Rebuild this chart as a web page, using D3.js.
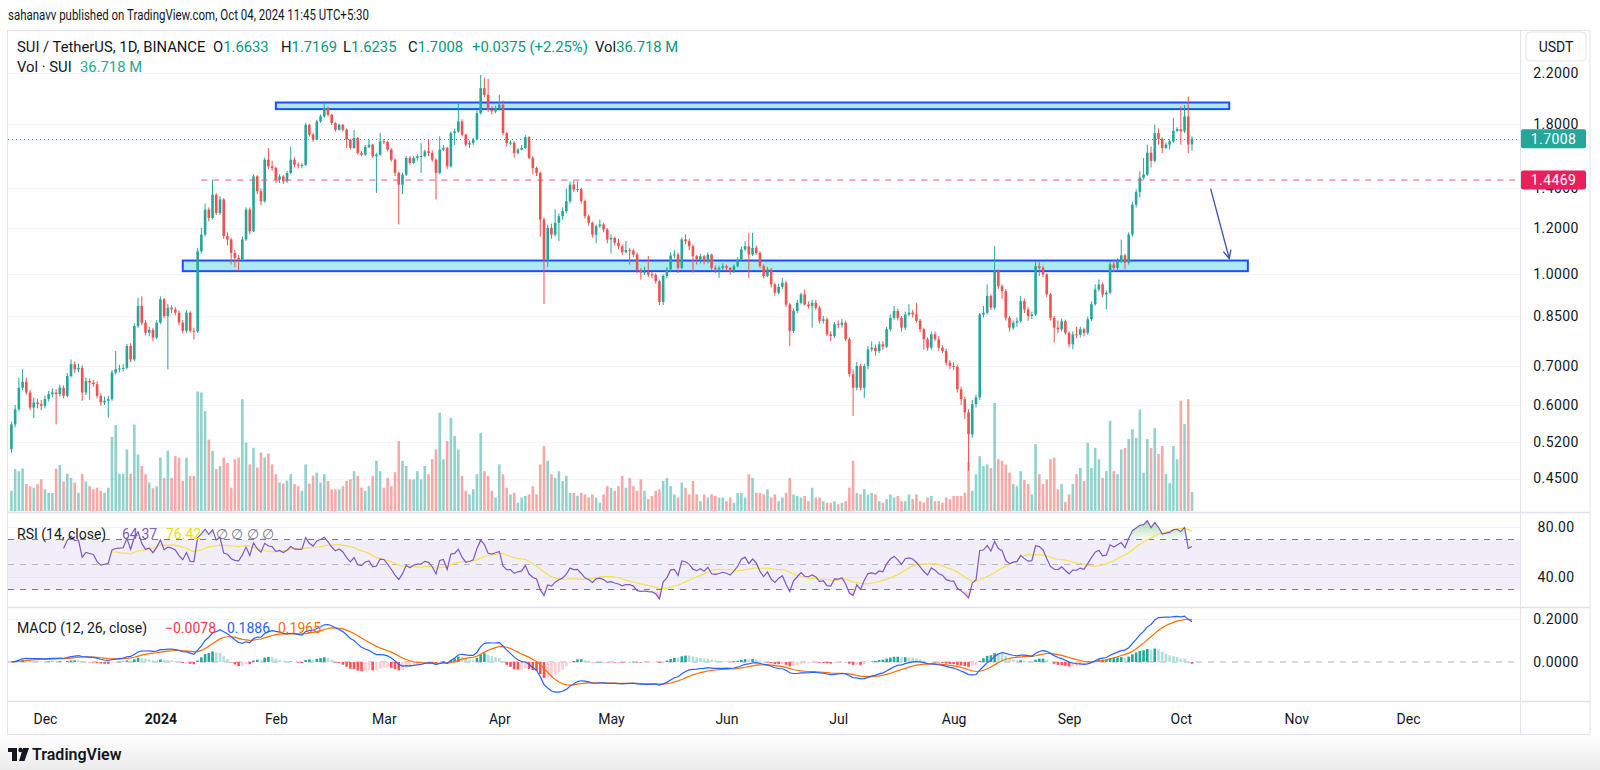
<!DOCTYPE html>
<html><head><meta charset="utf-8">
<script src="https://cdn.jsdelivr.net/npm/d3@7"></script>
<style>
body{margin:0;background:#fff;}
text{font-family:Roboto,"Liberation Sans",sans-serif;}
</style>
</head><body>
<svg id="c" width="1600" height="770"></svg>
<script>
// ---------------- DATA ----------------
const startDate = "2023-11-22";   // first daily candle
const open0 = 0.505;
const closes = [
0.556,0.590,0.642,0.657,0.630,0.594,0.606,0.602,0.598,0.614,
0.626,0.630,0.626,0.642,0.622,0.672,0.704,0.690,0.694,0.630,
0.659,0.655,0.651,0.622,0.606,0.610,0.614,0.681,0.690,0.692,
0.694,0.756,0.717,0.817,0.884,0.828,0.796,0.805,0.781,0.828,
0.907,0.850,0.878,0.872,0.861,0.828,0.802,0.861,0.802,0.800,
1.095,1.169,1.289,1.248,1.367,1.272,1.341,1.162,1.147,1.088,
1.067,1.060,1.147,1.289,1.184,1.468,1.385,1.332,1.567,1.527,
1.517,1.449,1.468,1.440,1.488,1.567,1.537,1.531,1.535,1.796,
1.728,1.695,1.820,1.856,1.918,1.868,1.808,1.762,1.796,1.762,
1.695,1.641,1.706,1.609,1.598,1.647,1.662,1.588,1.598,1.684,
1.680,1.630,1.567,1.488,1.421,1.478,1.578,1.547,1.578,1.588,
1.590,1.619,1.609,1.567,1.488,1.630,1.641,1.527,1.739,1.750,
1.820,1.728,1.662,1.672,1.695,1.880,2.073,2.020,1.905,1.893,
1.918,1.943,1.739,1.672,1.675,1.609,1.630,1.641,1.712,1.578,
1.517,1.488,1.240,1.060,1.200,1.169,1.224,1.256,1.281,1.332,
1.421,1.394,1.397,1.332,1.256,1.224,1.169,1.208,1.216,1.192,
1.147,1.154,1.132,1.117,1.091,1.100,1.098,1.081,1.017,1.007,
1.009,1.000,0.998,0.974,0.898,0.994,1.020,1.077,1.081,1.026,
1.147,1.139,1.117,1.074,1.060,1.074,1.053,1.081,1.026,1.020,
1.026,1.033,1.026,1.013,1.033,1.060,1.103,1.117,1.081,1.110,
1.088,1.033,0.994,1.020,0.962,0.931,0.953,0.968,0.889,0.802,
0.867,0.895,0.925,0.889,0.884,0.895,0.878,0.834,0.839,0.791,
0.786,0.823,0.821,0.828,0.776,0.677,0.642,0.699,0.642,0.699,
0.746,0.751,0.741,0.761,0.754,0.807,0.844,0.867,0.844,0.812,
0.855,0.861,0.855,0.834,0.807,0.776,0.751,0.791,0.776,0.751,
0.741,0.708,0.699,0.697,0.638,0.614,0.583,0.535,0.602,0.618,
0.855,0.861,0.919,0.878,1.013,0.955,0.937,0.844,0.812,0.828,
0.833,0.901,0.872,0.850,0.855,1.033,1.026,1.000,0.925,0.844,
0.812,0.807,0.833,0.796,0.761,0.791,0.790,0.807,0.796,0.839,
0.890,0.943,0.962,0.925,0.931,1.040,1.026,1.053,1.078,1.047,
1.169,1.314,1.380,1.460,1.478,1.610,1.560,1.739,1.700,1.640,
1.662,1.683,1.755,1.767,1.751,1.856,1.6633,1.7008];
const highs = [
0.562,0.600,0.668,0.690,0.668,0.636,0.618,0.615,0.612,0.622,
0.634,0.640,0.638,0.650,0.648,0.680,0.717,0.712,0.705,0.700,
0.668,0.666,0.662,0.658,0.628,0.620,0.622,0.688,0.741,0.702,
0.704,0.762,0.764,0.826,0.913,0.918,0.836,0.815,0.812,0.836,
0.918,0.912,0.890,0.886,0.880,0.868,0.836,0.870,0.866,0.812,
1.110,1.200,1.320,1.300,1.449,1.375,1.360,1.348,1.180,1.155,
1.100,1.080,1.160,1.300,1.300,1.480,1.475,1.400,1.580,1.640,
1.560,1.525,1.480,1.475,1.500,1.650,1.580,1.550,1.545,1.810,
1.805,1.740,1.832,1.870,1.968,1.930,1.875,1.815,1.805,1.800,
1.770,1.700,1.760,1.712,1.620,1.660,1.700,1.668,1.610,1.740,
1.700,1.690,1.640,1.575,1.495,1.490,1.590,1.590,1.590,1.600,
1.672,1.630,1.695,1.625,1.575,1.717,1.660,1.648,1.750,1.770,
1.950,1.835,1.735,1.690,1.705,1.900,2.183,2.160,2.150,1.930,
1.935,2.020,1.975,1.745,1.690,1.685,1.640,1.660,1.725,1.718,
1.590,1.525,1.495,1.250,1.215,1.220,1.290,1.270,1.300,1.400,
1.440,1.445,1.440,1.405,1.340,1.265,1.230,1.215,1.240,1.225,
1.200,1.170,1.160,1.150,1.125,1.140,1.110,1.105,1.090,1.025,
1.030,1.075,1.010,1.005,0.980,1.000,1.030,1.090,1.100,1.090,
1.155,1.170,1.150,1.125,1.080,1.085,1.080,1.090,1.085,1.035,
1.035,1.045,1.040,1.030,1.040,1.070,1.115,1.139,1.177,1.177,
1.120,1.095,1.040,1.030,1.025,0.968,0.965,0.987,0.975,0.895,
0.875,0.905,0.931,0.943,0.900,0.905,0.905,0.885,0.850,0.845,
0.800,0.830,0.835,0.840,0.835,0.782,0.690,0.710,0.705,0.705,
0.755,0.770,0.760,0.770,0.770,0.815,0.855,0.884,0.875,0.850,
0.865,0.890,0.870,0.895,0.840,0.812,0.782,0.800,0.800,0.785,
0.758,0.748,0.715,0.710,0.702,0.645,0.620,0.590,0.612,0.625,
0.860,0.884,0.962,0.925,1.117,1.020,0.962,0.945,0.850,0.835,
0.845,0.919,0.910,0.880,0.865,1.053,1.053,1.035,1.005,0.930,
0.850,0.835,0.842,0.838,0.800,0.800,0.815,0.815,0.812,0.848,
0.900,0.962,0.980,0.970,0.940,1.050,1.060,1.065,1.146,1.085,
1.180,1.330,1.395,1.497,1.577,1.662,1.650,1.797,1.770,1.710,
1.675,1.695,1.844,1.780,1.930,1.940,2.007,1.7169];
const lows = [
0.498,0.550,0.585,0.636,0.625,0.588,0.570,0.592,0.588,0.592,
0.608,0.618,0.556,0.620,0.616,0.618,0.668,0.680,0.682,0.610,
0.624,0.612,0.644,0.616,0.598,0.600,0.571,0.610,0.676,0.682,
0.684,0.690,0.710,0.712,0.812,0.820,0.788,0.785,0.770,0.776,
0.824,0.842,0.690,0.860,0.852,0.820,0.794,0.796,0.796,0.775,
0.795,1.085,1.160,1.230,1.240,1.262,1.262,1.150,1.120,1.040,
1.030,1.013,1.050,1.140,1.170,1.180,1.370,1.310,1.325,1.510,
1.500,1.430,1.430,1.425,1.430,1.480,1.520,1.515,1.515,1.530,
1.715,1.680,1.690,1.810,1.845,1.855,1.795,1.750,1.755,1.750,
1.640,1.630,1.636,1.598,1.588,1.590,1.640,1.578,1.376,1.590,
1.665,1.620,1.555,1.470,1.216,1.370,1.470,1.535,1.540,1.560,
1.488,1.580,1.590,1.555,1.341,1.480,1.620,1.510,1.520,1.660,
1.740,1.715,1.650,1.640,1.660,1.690,1.870,2.000,1.890,1.870,
1.880,1.900,1.725,1.650,1.660,1.580,1.600,1.625,1.635,1.570,
1.480,1.470,1.160,0.890,1.030,1.150,1.160,1.139,1.240,1.270,
1.320,1.380,1.380,1.320,1.245,1.210,1.155,1.130,1.200,1.180,
1.130,1.085,1.120,1.105,1.080,1.085,1.040,1.070,1.005,0.980,
0.998,0.990,0.985,0.965,0.887,0.887,0.985,1.010,1.065,1.006,
1.020,1.125,1.100,1.007,1.040,1.045,1.040,1.045,1.015,1.005,
0.987,1.015,1.015,1.000,1.005,1.028,1.055,1.095,0.987,1.075,
1.080,1.025,0.985,0.990,0.950,0.920,0.925,0.945,0.880,0.756,
0.795,0.860,0.890,0.885,0.875,0.812,0.870,0.825,0.825,0.785,
0.770,0.780,0.810,0.812,0.770,0.670,0.575,0.635,0.635,0.617,
0.690,0.740,0.728,0.735,0.745,0.750,0.800,0.838,0.835,0.800,
0.805,0.850,0.845,0.828,0.798,0.745,0.742,0.745,0.770,0.742,
0.735,0.700,0.690,0.688,0.630,0.600,0.568,0.464,0.528,0.594,
0.612,0.845,0.855,0.870,0.872,0.945,0.910,0.835,0.800,0.805,
0.815,0.828,0.860,0.834,0.840,0.850,0.994,0.990,0.915,0.835,
0.766,0.795,0.800,0.790,0.752,0.746,0.780,0.782,0.785,0.790,
0.833,0.885,0.935,0.915,0.872,0.925,1.010,1.013,1.045,1.020,
1.040,1.160,1.300,1.350,1.450,1.470,1.520,1.550,1.662,1.608,
1.635,1.630,1.675,1.745,1.662,1.740,1.608,1.6235];
const volumes = [ // millions of SUI
39,81,77,82,52,48,45,52,61,42,
35,35,82,89,57,72,64,55,35,72,
57,48,42,45,39,35,45,143,166,72,
72,119,72,167,109,87,71,55,44,48,
103,64,117,64,106,103,58,103,68,68,
231,229,193,138,116,81,87,103,93,45,
100,103,216,132,90,122,84,113,103,111,
90,71,55,53,59,71,52,48,39,90,
53,68,74,55,71,58,42,42,42,48,
58,61,77,68,45,39,48,68,97,77,
45,64,48,75,135,97,87,61,61,77,
61,87,71,100,119,190,100,135,180,145,
119,68,39,32,42,71,151,77,68,39,
26,90,71,45,32,35,16,26,29,32,
48,32,90,126,97,71,64,77,58,68,
35,35,29,35,32,26,32,26,16,32,
48,45,39,48,68,45,64,48,39,61,
39,23,29,39,42,58,64,48,32,26,
55,45,32,58,32,19,32,26,32,29,
26,26,19,26,16,35,35,26,71,64,
35,35,32,42,26,32,19,26,35,64,
32,29,26,29,19,45,26,26,19,16,
16,19,13,16,19,45,97,35,32,42,
32,35,32,19,16,23,32,26,29,19,
19,32,23,32,19,16,26,29,19,19,
16,26,23,29,29,29,35,95,39,71,
106,87,90,83,209,100,97,90,74,52,
48,77,60,52,32,129,71,52,61,100,
103,42,52,17,32,52,71,83,58,132,
83,122,100,64,77,174,77,71,119,122,
139,158,141,196,74,139,122,160,110,126,
71,54,126,100,213,168,216,36.718];

const priceTicks = [2.2,1.8,1.4,1.2,1.0,0.85,0.7,0.6,0.52,0.45];
const monthTicks = ["2023-12-01","2024-01-01","2024-02-01","2024-03-01","2024-04-01","2024-05-01","2024-06-01","2024-07-01","2024-08-01","2024-09-01","2024-10-01","2024-11-01","2024-12-01"];
const monthLabels = ["Dec","2024","Feb","Mar","Apr","May","Jun","Jul","Aug","Sep","Oct","Nov","Dec"];
const rsiTicks = [80,40];
const rsiBands = [70,50,30];
const macdTicks = [0.2,0];
// drawings
const zoneFrom = ["2024-02-01","2024-01-07"];
const zoneTo   = ["2024-10-14","2024-10-19"];
const zoneLow  = [1.910,1.013];
const zoneHigh = [1.960,1.056];
const hLineFrom = "2024-01-12";
const hLinePrice = 1.4469;
const arrowDates = ["2024-10-09","2024-10-14"];
const arrowPrices = [1.399,1.0645];

// ---------------- LAYOUT ----------------
const svg = d3.select("#c");
const plotL = 8, plotR = 1520, frameR = 1590;
const frameTop = 30, priceBottom = 512, rsiBottom = 607, macdBottom = 701, frameBottom = 734;
const parse = d3.utcParse("%Y-%m-%d");
const start = parse(startDate);
const dates = closes.map((_, i) => d3.utcDay.offset(start, i));
const opens = closes.map((c, i) => i === 0 ? open0 : closes[i - 1]);

const x = d3.scaleUtc().domain([parse("2024-01-01"), parse("2024-12-01")]).range([160.4, 1408]);
const y = d3.scaleLog().domain([0.45, 2.2]).range([478.5, 73]);
const yv = d3.scaleLinear().domain([0, 250]).range([511, 511 - 250 * 0.5175]);
const yr = d3.scaleLinear().domain([16, 92]).range([607, 512]);
const ym = d3.scaleLinear().domain([0, 0.2]).range([662, 619]);

const UP = "#26a69a", DOWN = "#ef5350";
const TXT = "#131722";

// defs
const defs = svg.append("defs");
[["clipP", frameTop, priceBottom], ["clipR", priceBottom, rsiBottom], ["clipM", rsiBottom, macdBottom]].forEach(([id, t, b]) => {
  defs.append("clipPath").attr("id", id).append("rect").attr("x", plotL).attr("y", t).attr("width", plotR - plotL).attr("height", b - t);
});
const fg = defs.append("linearGradient").attr("id", "foot").attr("x1", 0).attr("y1", 0).attr("x2", 0).attr("y2", 1);
fg.append("stop").attr("offset", 0).attr("stop-color", "#ffffff");
fg.append("stop").attr("offset", 1).attr("stop-color", "#ebebeb");
const gOB = defs.append("linearGradient").attr("id", "ob").attr("x1", 0).attr("y1", 0).attr("x2", 0).attr("y2", 1);
gOB.append("stop").attr("offset", 0).attr("stop-color", "rgba(76,175,80,0.45)");
gOB.append("stop").attr("offset", 1).attr("stop-color", "rgba(76,175,80,0.05)");
const gOS = defs.append("linearGradient").attr("id", "os").attr("x1", 0).attr("y1", 0).attr("x2", 0).attr("y2", 1);
gOS.append("stop").attr("offset", 0).attr("stop-color", "rgba(242,54,69,0.05)");
gOS.append("stop").attr("offset", 1).attr("stop-color", "rgba(242,54,69,0.45)");

// background + footer
svg.append("rect").attr("width", 1600).attr("height", 770).attr("fill", "#fff");
svg.append("rect").attr("x", 0).attr("y", frameBottom).attr("width", 1600).attr("height", 770 - frameBottom).attr("fill", "url(#foot)");

// header
svg.append("text").attr("x", 8).attr("y", 20).attr("font-size", 14).attr("fill", TXT)
  .attr("textLength", 361).attr("lengthAdjust", "spacingAndGlyphs")
  .text("sahanavv published on TradingView.com, Oct 04, 2024 11:45 UTC+5:30");

// frame
svg.append("rect").attr("x", 7.5).attr("y", frameTop + 0.5).attr("width", frameR - 7.5).attr("height", frameBottom - frameTop)
  .attr("fill", "none").attr("stroke", "#e0e3eb");
[priceBottom, rsiBottom, macdBottom].forEach(v => svg.append("line").attr("x1", 7.5).attr("x2", frameR).attr("y1", v + 0.5).attr("y2", v + 0.5).attr("stroke", "#e0e3eb").attr("stroke-width", 1.5));
svg.append("line").attr("x1", plotR + 0.5).attr("x2", plotR + 0.5).attr("y1", frameTop).attr("y2", frameBottom).attr("stroke", "#e0e3eb");

// grid
const grid = svg.append("g").attr("stroke", "#f0f3fa").attr("stroke-width", 1);
priceTicks.forEach(p => grid.append("line").attr("x1", plotL).attr("x2", plotR).attr("y1", Math.round(y(p)) + 0.5).attr("y2", Math.round(y(p)) + 0.5));
rsiTicks.forEach(v => grid.append("line").attr("x1", plotL).attr("x2", plotR).attr("y1", Math.round(yr(v)) + 0.5).attr("y2", Math.round(yr(v)) + 0.5));
grid.append("line").attr("x1", plotL).attr("x2", plotR).attr("y1", Math.round(ym(0.2)) + 0.5).attr("y2", Math.round(ym(0.2)) + 0.5);

// ---------------- PRICE PANE ----------------
const gp = svg.append("g").attr("clip-path", "url(#clipP)");
const bw = 2.6;
// volume
gp.selectAll("rect.vol").data(closes).join("rect").attr("class", "vol")
  .attr("x", (c, i) => x(dates[i]) - bw / 2).attr("width", bw)
  .attr("y", (c, i) => yv(volumes[i])).attr("height", (c, i) => yv(0) - yv(volumes[i]))
  .attr("fill", (c, i) => c >= opens[i] ? "rgba(38,166,154,0.5)" : "rgba(239,83,80,0.5)");

// zones (rectangles)
zoneFrom.forEach((f, k) => {
  const x0 = x(parse(f)), x1 = x(parse(zoneTo[k]));
  gp.append("rect").attr("x", x0).attr("y", y(zoneHigh[k])).attr("width", x1 - x0).attr("height", y(zoneLow[k]) - y(zoneHigh[k]))
    .attr("fill", "rgba(0,188,212,0.32)").attr("stroke", "#1e4dff").attr("stroke-width", 2);
});

// candles
const gc = gp.append("g");
closes.forEach((c, i) => {
  const o = opens[i], up = c >= o, col = up ? UP : DOWN, cx = x(dates[i]);
  gc.append("line").attr("x1", cx).attr("x2", cx).attr("y1", y(highs[i])).attr("y2", y(lows[i])).attr("stroke", col).attr("stroke-width", 1);
  const yt = y(Math.max(o, c)), yb = y(Math.min(o, c));
  gc.append("rect").attr("x", cx - bw / 2).attr("width", bw).attr("y", yt).attr("height", Math.max(1, yb - yt)).attr("fill", col);
});

// horizontal dashed line
gp.append("line").attr("x1", x(parse(hLineFrom))).attr("x2", plotR).attr("y1", y(hLinePrice)).attr("y2", y(hLinePrice))
  .attr("stroke", "#f0517a").attr("stroke-width", 1).attr("stroke-dasharray", "6,6");
// last price dotted line
const last = closes.length - 1;
gp.append("line").attr("x1", plotL).attr("x2", plotR).attr("y1", Math.round(y(closes[last])) + 0.5).attr("y2", Math.round(y(closes[last])) + 0.5)
  .attr("stroke", UP).attr("stroke-width", 1).attr("stroke-dasharray", "1,3");
// arrow
const ax0 = x(parse(arrowDates[0])), ay0 = y(arrowPrices[0]), ax1 = x(parse(arrowDates[1])), ay1 = y(arrowPrices[1]);
svg.append("line").attr("x1", ax0).attr("y1", ay0).attr("x2", ax1).attr("y2", ay1).attr("stroke", "#3a4fb0").attr("stroke-width", 1.3);
const ang = Math.atan2(ay1 - ay0, ax1 - ax0), L = 9;
svg.append("path").attr("d", `M${ax1 - L * Math.cos(ang - 0.45)},${ay1 - L * Math.sin(ang - 0.45)}L${ax1},${ay1}L${ax1 - L * Math.cos(ang + 0.45)},${ay1 - L * Math.sin(ang + 0.45)}`)
  .attr("fill", "none").attr("stroke", "#3a4fb0").attr("stroke-width", 1.3);

// price axis
const pa = svg.append("g").attr("transform", `translate(${plotR},0)`)
  .call(d3.axisRight(y).tickValues(priceTicks).tickFormat(d3.format(".4f")).tickSize(0));
pa.select(".domain").remove();
pa.selectAll("text").attr("x", 36).attr("text-anchor", "middle").attr("font-size", 14).attr("fill", TXT).attr("font-family", "Roboto").style("letter-spacing", "0.4px");

// USDT box
svg.append("rect").attr("x", 1526).attr("y", 32).attr("width", 60).attr("height", 29).attr("rx", 4).attr("fill", "#fff").attr("stroke", "#e0e3eb");
svg.append("text").attr("x", 1556).attr("y", 51.5).attr("text-anchor", "middle").attr("font-size", 14).attr("fill", TXT).text("USDT");

// price labels
function priceLabel(p, fill, txt) {
  const yy = y(p);
  svg.append("rect").attr("x", 1521).attr("y", yy - 9.5).attr("width", 65).attr("height", 19).attr("rx", 2).attr("fill", fill);
  svg.append("text").attr("x", 1553.5).attr("y", yy + 5).attr("text-anchor", "middle").attr("font-size", 14).attr("fill", "#fff").style("letter-spacing", "0.4px").text(txt);
}
priceLabel(closes[last], UP, d3.format(".4f")(closes[last]));
priceLabel(hLinePrice, "#ea1f5c", d3.format(".4f")(hLinePrice));

// legend texts
const t1 = svg.append("text").attr("y", 52).attr("font-size", 14.8).attr("fill", TXT);
t1.append("tspan").attr("x", 17).text("SUI / TetherUS, 1D, BINANCE");
[["O", "1.6633", 213], ["H", "1.7169", 281], ["L", "1.6235", 343], ["C", "1.7008", 408]].forEach(([k, v, xx]) => {
  t1.append("tspan").attr("x", xx).text(k);
  t1.append("tspan").attr("fill", "#089981").text(v);
});
t1.append("tspan").attr("x", 472).attr("fill", "#089981").text("+0.0375 (+2.25%)");
t1.append("tspan").attr("x", 595).text("Vol");
t1.append("tspan").attr("fill", "#089981").text("36.718 M");
const t2 = svg.append("text").attr("y", 72).attr("font-size", 14.8).attr("fill", TXT);
t2.append("tspan").attr("x", 17).text("Vol · SUI");
t2.append("tspan").attr("x", 80).attr("fill", "#22ab94").text("36.718 M");

// ---------------- RSI ----------------
function rsiCalc(src, n) {
  const out = new Array(src.length).fill(null); let ag = 0, al = 0;
  for (let i = 1; i < src.length; i++) {
    const ch = src[i] - src[i - 1], g = Math.max(ch, 0), l = Math.max(-ch, 0);
    if (i <= n) { ag += g; al += l; if (i === n) { ag /= n; al /= n; out[i] = al === 0 ? 100 : 100 - 100 / (1 + ag / al); } }
    else { ag = (ag * (n - 1) + g) / n; al = (al * (n - 1) + l) / n; out[i] = al === 0 ? 100 : 100 - 100 / (1 + ag / al); }
  }
  return out;
}
function sma(arr, n) { return arr.map((v, i) => { if (i < n - 1) return null; const s = arr.slice(i - n + 1, i + 1); return s.some(t => t == null) ? null : d3.mean(s); }); }
function ema(arr, n) { const k = 2 / (n + 1); let prev = null; return arr.map(v => { if (v == null) return null; prev = prev == null ? v : v * k + prev * (1 - k); return prev; }); }
const rsi = rsiCalc(closes, 14);
const rsiMA = sma(rsi, 14);

const gr = svg.append("g").attr("clip-path", "url(#clipR)");
gr.append("rect").attr("x", plotL).attr("width", plotR - plotL).attr("y", yr(70)).attr("height", yr(30) - yr(70)).attr("fill", "rgba(126,87,194,0.1)");
rsiBands.forEach(b => gr.append("line").attr("x1", plotL).attr("x2", plotR).attr("y1", yr(b)).attr("y2", yr(b))
  .attr("stroke", b === 50 ? "rgba(120,123,134,0.5)" : "#787b86").attr("stroke-dasharray", "6,6").attr("stroke-width", 1));
const idx = d3.range(closes.length);
gr.append("path").attr("d", d3.area().defined(i => rsi[i] != null).x(i => x(dates[i])).y0(yr(70)).y1(i => yr(Math.max(rsi[i], 70)))(idx)).attr("fill", "url(#ob)");
gr.append("path").attr("d", d3.area().defined(i => rsi[i] != null).x(i => x(dates[i])).y0(yr(30)).y1(i => yr(Math.min(rsi[i], 30)))(idx)).attr("fill", "url(#os)");
gr.append("path").attr("d", d3.line().defined(i => rsiMA[i] != null).x(i => x(dates[i])).y(i => yr(rsiMA[i]))(idx)).attr("fill", "none").attr("stroke", "#f7e04b").attr("stroke-width", 1.2);
gr.append("path").attr("d", d3.line().defined(i => rsi[i] != null).x(i => x(dates[i])).y(i => yr(rsi[i]))(idx)).attr("fill", "none").attr("stroke", "#7e57c2").attr("stroke-width", 1.2);
const ra = svg.append("g").attr("transform", `translate(${plotR},0)`).call(d3.axisRight(yr).tickValues(rsiTicks).tickFormat(d3.format(".2f")).tickSize(0));
ra.select(".domain").remove();
ra.selectAll("text").attr("x", 36).attr("text-anchor", "middle").attr("font-size", 14).attr("fill", TXT).style("letter-spacing", "0.4px");
const tr = svg.append("text").attr("y", 539).attr("font-size", 14).attr("fill", TXT);
tr.append("tspan").attr("x", 17).text("RSI (14, close)");
tr.append("tspan").attr("x", 122).attr("fill", "#7e57c2").text("64.37");
tr.append("tspan").attr("x", 166).attr("fill", "#f5d90a").text("76.42");
tr.append("tspan").attr("x", 216).attr("fill", "#787b86").text("∅  ∅  ∅  ∅");

// ---------------- MACD ----------------
const e12 = ema(closes, 12), e26 = ema(closes, 26);
const macd = closes.map((_, i) => e12[i] - e26[i]);
const signal = ema(macd, 9);
const hist = macd.map((m, i) => m - signal[i]);
const gm = svg.append("g").attr("clip-path", "url(#clipM)");
gm.append("line").attr("x1", plotL).attr("x2", plotR).attr("y1", ym(0)).attr("y2", ym(0)).attr("stroke", "rgba(120,123,134,0.6)").attr("stroke-dasharray", "6,6");
gm.selectAll("rect.h").data(hist).join("rect").attr("class", "h")
  .attr("x", (h, i) => x(dates[i]) - bw / 2).attr("width", bw)
  .attr("y", h => Math.min(ym(h), ym(0))).attr("height", h => Math.max(0.5, Math.abs(ym(h) - ym(0))))
  .attr("fill", (h, i) => { const p = i > 0 ? hist[i - 1] : h; return h >= 0 ? (p < h ? "#26a69a" : "#b2dfdb") : (p < h ? "#ffcdd2" : "#ff5252"); });
gm.append("path").attr("d", d3.line().x(i => x(dates[i])).y(i => ym(signal[i]))(idx)).attr("fill", "none").attr("stroke", "#ff6d00").attr("stroke-width", 1.2);
gm.append("path").attr("d", d3.line().x(i => x(dates[i])).y(i => ym(macd[i]))(idx)).attr("fill", "none").attr("stroke", "#2962ff").attr("stroke-width", 1.2);
const ma = svg.append("g").attr("transform", `translate(${plotR},0)`).call(d3.axisRight(ym).tickValues(macdTicks).tickFormat(d3.format(".4f")).tickSize(0));
ma.select(".domain").remove();
ma.selectAll("text").attr("x", 36).attr("text-anchor", "middle").attr("font-size", 14).attr("fill", TXT).style("letter-spacing", "0.4px");
const tm = svg.append("text").attr("y", 633).attr("font-size", 14).attr("fill", TXT);
tm.append("tspan").attr("x", 17).text("MACD (12, 26, close)");
tm.append("tspan").attr("x", 165).attr("fill", "#f23645").text("−0.0078");
tm.append("tspan").attr("x", 227).attr("fill", "#2962ff").text("0.1886");
tm.append("tspan").attr("x", 278).attr("fill", "#ff6d00").text("0.1965");

// ---------------- TIME AXIS ----------------
const ta = svg.append("g").attr("transform", `translate(0,${macdBottom})`)
  .call(d3.axisBottom(x).tickValues(monthTicks.map(parse)).tickFormat((d, i) => monthLabels[i]).tickSize(0).tickPadding(0));
ta.select(".domain").remove();
ta.selectAll("text").attr("y", 0).attr("dy", 0).attr("transform", "translate(0,23)").attr("font-size", 14).attr("fill", TXT)
  .attr("font-weight", (d, i) => monthLabels[i] === "2024" ? 700 : 400);

// footer logo
const lg = svg.append("g").attr("fill", TXT);
lg.append("rect").attr("x", 8).attr("y", 748).attr("width", 9).attr("height", 4);
lg.append("rect").attr("x", 12).attr("y", 748).attr("width", 5).attr("height", 13);
lg.append("circle").attr("cx", 20.5).attr("cy", 750).attr("r", 2.2);
lg.append("path").attr("d", "M23,748 L29,748 L24.5,761 L19,761 Z");
svg.append("text").attr("x", 32).attr("y", 760).attr("font-size", 16).attr("font-weight", 600).attr("fill", TXT).text("TradingView");
</script>
</body></html>
